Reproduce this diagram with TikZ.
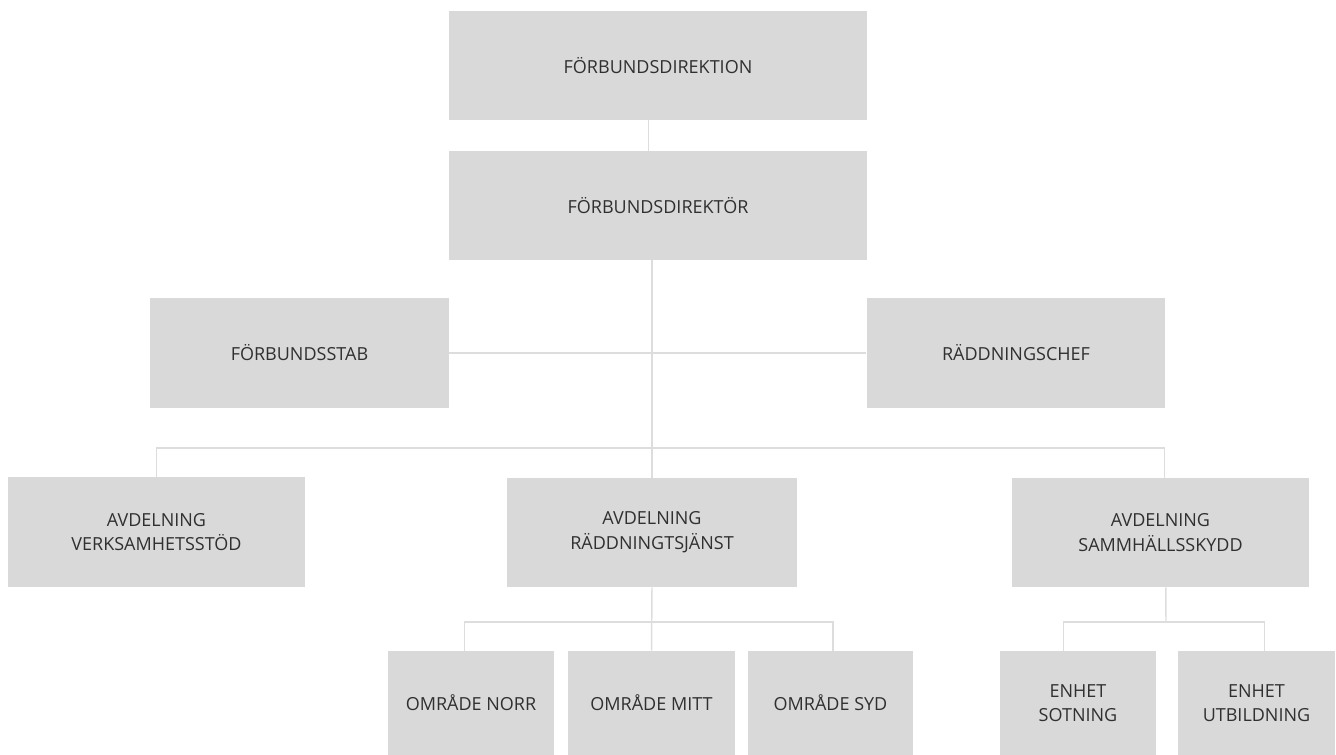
\documentclass[tikz,border=0pt]{standalone}
\usepackage{fontspec}
\setmainfont{Open Sans}
\usepackage{tikz}

\definecolor{boxgray}{HTML}{D9D9D9}
\definecolor{linegray}{HTML}{DDDDDD}
\definecolor{textgray}{HTML}{303030}

\begin{document}
\begin{tikzpicture}[x=0.75pt,y=-0.75pt,
    unit/.style={fill=boxgray,text=textgray,align=center,inner sep=0pt,
      font=\fontsize{13.5}{18.5}\selectfont},
    link/.style={draw=linegray,line width=1.1pt}]
      \useasboundingbox (0,0) rectangle (1336,755);
      % top of the chart
      \node[unit,minimum width=313.5pt,minimum height=82pt] (direktion) at (658,65.5) {FÖRBUNDSDIREKTION};
      \node[unit,minimum width=313.5pt,minimum height=82pt] (direktor) at (658,205.5) {FÖRBUNDSDIREKTÖR};
      \node[unit,minimum width=224pt,minimum height=82.5pt] (stab) at (299.5,353) {FÖRBUNDSSTAB};
      \node[unit,minimum width=224pt,minimum height=82.5pt] (chef) at (1016,353) {RÄDDNINGSCHEF};
      % avdelningar
      \node[unit,minimum width=223pt,minimum height=82.5pt] (verksamhet) at (156.5,532) {AVDELNING\\VERKSAMHETSSTÖD};
      \node[unit,minimum width=217.5pt,minimum height=82pt] (raddning) at (652,532.5) {AVDELNING\\RÄDDNINGTSJÄNST};
      \node[unit,minimum width=223pt,minimum height=82pt] (skydd) at (1160.5,532.5) {AVDELNING\\SAMMHÄLLSSKYDD};
      % områden och enheter
      \node[unit,minimum width=124.5pt,minimum height=78pt] (norr) at (471,703) {OMRÅDE NORR};
      \node[unit,minimum width=125pt,minimum height=78pt] (mitt) at (651.5,703) {OMRÅDE MITT};
      \node[unit,minimum width=124pt,minimum height=78pt] (syd) at (830.5,703) {OMRÅDE SYD};
      \node[unit,minimum width=117pt,minimum height=78pt] (sotning) at (1078,703) {ENHET\\SOTNING};
      \node[unit,minimum width=118pt,minimum height=78pt] (utbildning) at (1256.5,703) {ENHET\\UTBILDNING};
      \coordinate (bus) at (652,448);
      \coordinate (busr) at (652,622);
      \coordinate (buss) at (1166,622);
      % connectors
      \draw[link] ([xshift=-7pt]direktion.south) -- ([xshift=-7pt]direktor.north);
      \draw[link] (raddning.north) -- (raddning.north |- direktor.south);
      \draw[link] (stab.east) -- (chef.west);
      \draw[link] (verksamhet.north) |- (bus) -| ([xshift=3pt]skydd.north);
      \draw[link] (raddning.south) -- (mitt.north);
      \draw[link] ([xshift=-5pt]norr.north) |- (busr) -| ([xshift=2pt]syd.north);
      \draw[link] ([xshift=4pt]skydd.south) -- (buss);
      \draw[link] ([xshift=-11pt]sotning.north) |- (buss) -| ([xshift=6pt]utbildning.north);
    \end{tikzpicture}
\end{document}
